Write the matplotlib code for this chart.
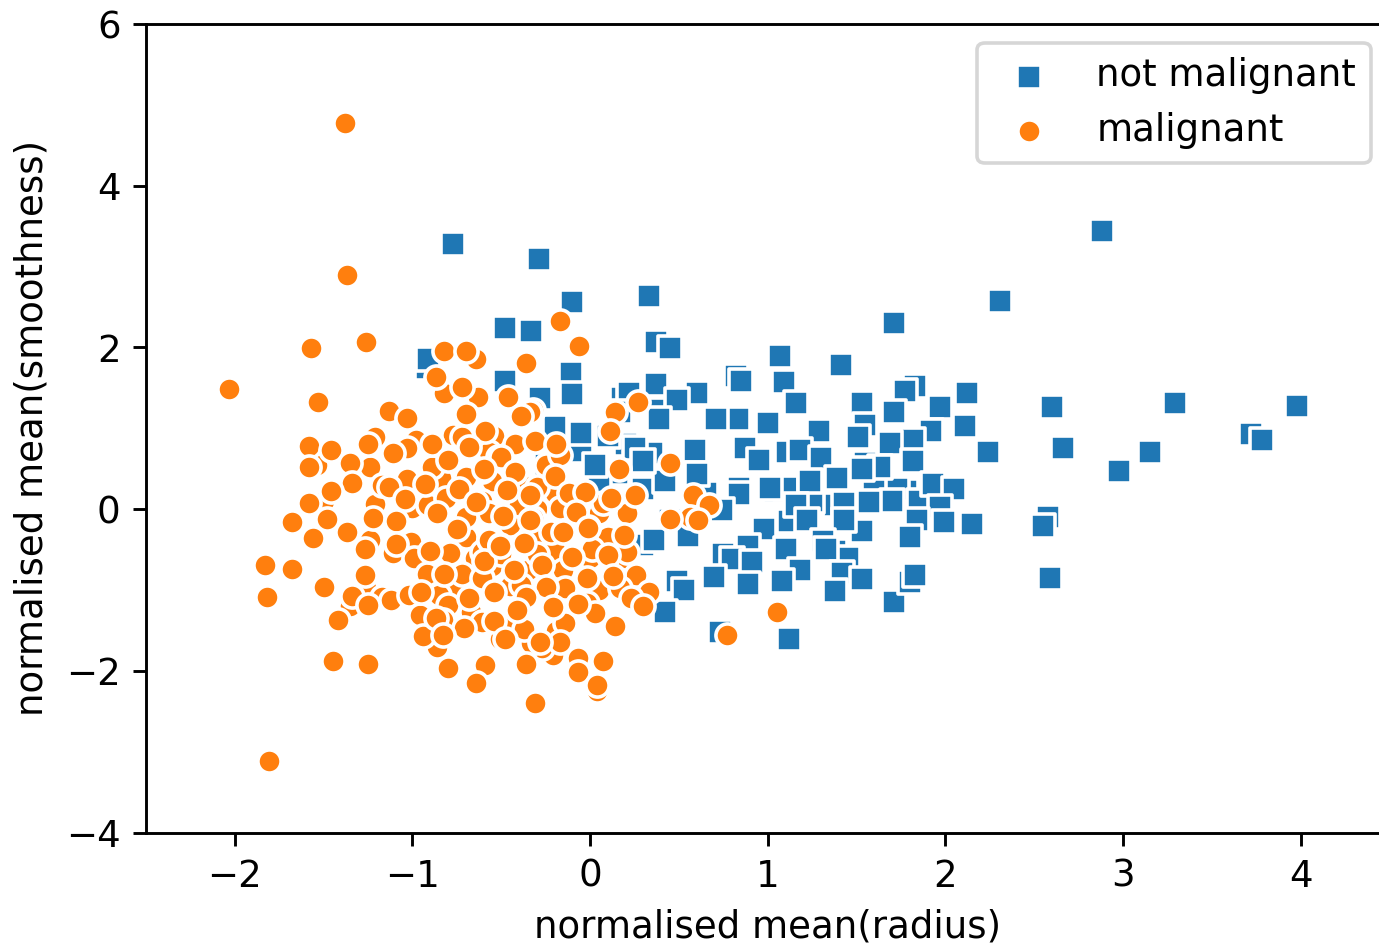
import matplotlib
matplotlib.use("Agg")
import matplotlib.pyplot as plt

blue_x = [-0.91,0.18,0.40,0.88,1.12,1.38,1.45,1.55,1.78,0.65,0.30,1.73,1.20,1.60,1.85,0.35,0.20,0.62,1.38,1.04,-0.92,1.25,-0.20,-0.05,0.10,0.25,0.30,0.42,0.15,-0.25,0.05,-0.77,-0.29,-0.10,0.33,-0.48,-0.33,0.37,0.45,-0.91,-0.11,-0.48,-0.28,-0.10,0.37,0.22,0.60,0.49,0.82,0.85,1.07,1.09,1.16,1.41,1.71,2.31,2.88,1.83,1.77,1.53,1.97,2.12,2.60,3.29,3.98,3.72,3.78,3.15,2.98,2.66,2.24,2.11,1.92,1.82,1.71,1.69,1.55,1.51,1.29,1.00,0.83,0.71,0.39,0.17,0.59,0.87,0.95,0.60,0.30,0.03,-0.05,1.11,1.18,1.30,1.10,1.01,1.24,1.39,1.63,1.53,1.82,1.93,2.05,1.97,1.70,1.57,1.43,1.16,0.84,0.84,0.74,0.45,2.15,1.99,2.58,2.55,1.84,1.80,1.53,1.43,1.22,0.98,0.55,0.36,1.31,1.33,1.10,0.89,0.75,0.80,0.91,1.18,1.42,1.53,1.08,0.89,0.70,0.49,0.53,0.42,1.38,1.71,1.80,1.83,2.59,0.73,1.12]
blue_y = [1.80,1.38,1.22,-0.52,-0.15,-0.52,-0.60,0.57,0.22,0.20,-0.45,0.25,0.25,0.25,0.10,0.70,0.80,-0.05,0.05,0.22,1.75,0.10,1.02,0.72,0.90,0.75,0.25,0.35,0.45,0.55,0.30,3.28,3.09,2.56,2.64,2.24,2.20,2.07,1.99,1.86,1.68,1.58,1.37,1.42,1.55,1.44,1.43,1.35,1.65,1.58,1.89,1.57,1.31,1.78,2.30,2.57,3.44,1.52,1.46,1.31,1.26,1.44,1.26,1.31,1.27,0.93,0.86,0.71,0.47,0.75,0.71,1.03,0.96,0.86,1.20,0.82,1.04,0.89,0.96,1.07,1.11,1.12,1.11,1.20,0.73,0.76,0.61,0.44,0.60,0.54,0.94,0.71,0.73,0.63,0.26,0.26,0.35,0.39,0.52,0.49,0.60,0.31,0.25,0.03,0.10,0.09,0.08,0.05,0.26,0.19,-0.01,-0.13,-0.18,-0.16,-0.10,-0.21,-0.13,-0.34,-0.27,-0.13,-0.13,-0.25,-0.33,-0.38,-0.39,-0.49,-0.49,-0.46,-0.56,-0.62,-0.65,-0.75,-0.79,-0.87,-0.89,-0.93,-0.84,-0.89,-1.00,-1.27,-1.01,-1.15,-0.90,-0.82,-0.85,-1.52,-1.61]

orange_pts = [
(-1.38,4.78),(-1.37,2.90),(-2.03,1.48),(-0.17,2.33),(-1.83,-0.69),(-1.82,-1.09),(-1.68,-0.74),(-1.68,-0.16),(-1.81,-3.11),(0.77,-1.56),(1.05,-1.27),
(0.58,0.18),(0.67,0.05),(0.56,-0.10),(0.61,-0.13),
(-0.64,1.86),(-0.63,1.39),(-0.82,1.43),(-0.06,2.02),(-0.36,1.81),
(-0.45,-0.20),(-0.30,-0.30),(-0.20,-0.50),(-0.55,-0.70),(-0.45,-0.95),(-0.65,-0.60),(-0.70,-0.35),(-0.35,-0.75),(-0.30,0.00),(-0.20,0.20),(0.00,-0.60),(0.20,-0.60),(0.05,-1.00),(-0.90,0.20),(-0.15,-0.75),(-0.60,0.00),(-0.70,-0.10),(-0.25,0.55),(-0.40,0.35),(-0.55,0.35),(-0.20,-1.00),(-0.45,-1.40),(-0.75,-0.95),(-0.50,-0.55),(-0.30,-0.55),(0.10,-0.35),(0.05,-0.05),
(-1.21,0.89),(-1.24,0.52),(-0.98,0.85),(-1.03,0.75),(-1.54,0.54),(-1.50,0.10),(-1.21,0.06),(-1.17,0.30),(-1.00,0.01),(-1.03,0.37),(-0.84,0.39),(-0.89,0.52),(-0.91,0.05),(-0.81,0.14),(-0.54,0.91),(-0.57,0.71),(-0.55,-0.05),(-0.77,0.92),(-0.72,0.89),(-0.61,0.47),(-0.70,0.40),(-0.30,0.27),(-0.32,1.23),(-0.34,1.20),(-0.17,0.67),(-0.40,0.05),(-0.61,0.10),(-0.57,-0.05),(-0.32,-0.11),(-0.17,0.01),(0.07,0.08),(0.21,-0.05),(-0.01,-0.22),
(-1.24,-0.38),(-1.11,-0.54),(-1.01,-0.41),(-0.95,-0.61),(-0.99,-0.61),(-0.79,-0.54),(-0.61,-0.53),(-0.57,-0.38),(-0.22,-0.28),(0.01,-0.49),(0.21,-0.53),(0.26,-0.82),(0.17,-0.98),(0.33,-1.03),(0.23,-1.10),(0.30,-1.20),
(-1.26,-0.98),(-1.17,-1.09),(-1.12,-1.13),(-1.02,-1.06),(-0.85,-1.06),(-0.80,-1.19),(-0.92,-0.80),(-0.72,-0.80),(-0.61,-0.85),(-1.35,-1.20),(-1.42,-1.37),(-0.96,-1.31),(-0.83,-1.37),(-0.67,-1.27),(-0.61,-1.40),(-0.86,-1.71),(-0.94,-1.57),(-0.71,-1.47),(-0.51,-1.61),
(-0.39,-0.94),(-0.14,-0.98),(-0.02,-1.16),(0.03,-1.29),(-0.19,-1.51),(-0.14,-1.41),(-0.21,-1.81),(-0.27,-1.72),(-0.33,-1.66),(-0.17,-1.64),(-0.37,-1.48),(-0.07,-1.84),(0.04,-2.25),
(-1.57,1.99),(-1.26,2.07),(-1.53,1.33),(-1.13,1.21),(-1.03,1.13),(-0.82,1.95),(-0.70,1.95),(-0.87,1.64),(-0.72,1.51),(-0.70,1.18),(-0.59,0.97),(-0.68,0.77),
(-1.58,0.78),(-1.46,0.73),(-1.58,0.52),(-1.35,0.57),(-1.25,0.80),(-1.11,0.70),(-0.89,0.81),(-1.34,0.32),(-1.46,0.23),(-1.58,0.08),(-1.13,0.27),(-1.04,0.13),(-0.93,0.31),(-0.80,0.61),(-0.74,0.25),(-0.64,0.09),(-0.52,0.65),(-0.86,-0.05),(-1.22,-0.11),(-1.09,-0.15),(-1.48,-0.12),(-0.75,-0.25),
(-1.56,-0.36),(-1.37,-0.28),(-1.27,-0.49),(-1.09,-0.43),(-0.90,-0.52),(-0.60,-0.64),(-0.51,-0.44),(-0.82,-0.80),(-1.27,-0.82),(-1.50,-0.96),(-1.34,-1.08),(-1.25,-1.19),(-0.95,-1.03),(-0.68,-1.10),(-0.54,-1.03),(-0.87,-1.35),(-0.54,-1.39),(-0.83,-1.56),(-1.45,-1.88),(-1.25,-1.92),(-0.80,-1.97),(-0.59,-1.93),(-0.64,-2.15),
(-0.46,1.39),(-0.39,1.15),(0.27,1.33),(0.14,1.20),(0.11,0.97),(-0.42,0.81),(-0.31,0.84),(-0.19,0.80),(-0.50,0.65),(-0.60,0.49),(-0.42,0.46),(-0.20,0.41),(-0.47,0.24),(-0.34,0.18),(-0.12,0.20),(-0.03,0.21),(0.12,0.14),(0.25,0.18),(0.16,0.49),(0.45,0.57),(0.45,-0.12),(-0.08,-0.04),(-0.49,-0.08),
(-0.15,-0.28),(-0.01,-0.23),(0.19,-0.32),(-0.51,-0.46),(-0.37,-0.42),(-0.34,-0.13),(-0.43,-0.75),(-0.27,-0.69),(-0.10,-0.59),(0.10,-0.57),(-0.02,-0.85),(0.13,-0.83),(-0.25,-0.96),(-0.36,-1.09),(-0.41,-1.25),(-0.21,-1.21),(-0.07,-1.17),(0.14,-1.44),(-0.48,-1.61),(-0.28,-1.64),(-0.36,-1.91),(-0.07,-2.01),(0.07,-1.88),(0.04,-2.18),(-0.31,-2.40),
]
orange_x = [p[0] for p in orange_pts]
orange_y = [p[1] for p in orange_pts]

labels = ["not malignant", "malignant"]
xticks = [-2, -1, 0, 1, 2, 3, 4]
yticks = [-4, -2, 0, 2, 4, 6]

plt.rcParams["font.size"] = 10.3
W, H, DPI = 1379, 945, 260
fig = plt.figure(figsize=(W / DPI, H / DPI), dpi=DPI)
ax = fig.add_axes([146 / W, (H - 832.5) / H, (1389.5 - 146) / W, (832.5 - 24) / H])
ax.scatter(blue_x, blue_y, s=41, marker="s", c="#1f77b4", edgecolors="white", linewidths=1.0, label=labels[0])
ax.scatter(orange_x, orange_y, s=41, marker="o", c="#ff7f0e", edgecolors="white", linewidths=1.0, label=labels[1])
ax.set_xlim(-2.5, 4.5)
ax.set_ylim(-4, 6)
ax.set_xticks(xticks)
ax.set_yticks(yticks)
ax.set_xlabel("normalised mean(radius)", labelpad=3.7)
ax.set_ylabel("normalised mean(smoothness)", labelpad=4.3)
ax.legend(loc="upper right", labelspacing=0.46)
fig.savefig("out.png", dpi=DPI)
